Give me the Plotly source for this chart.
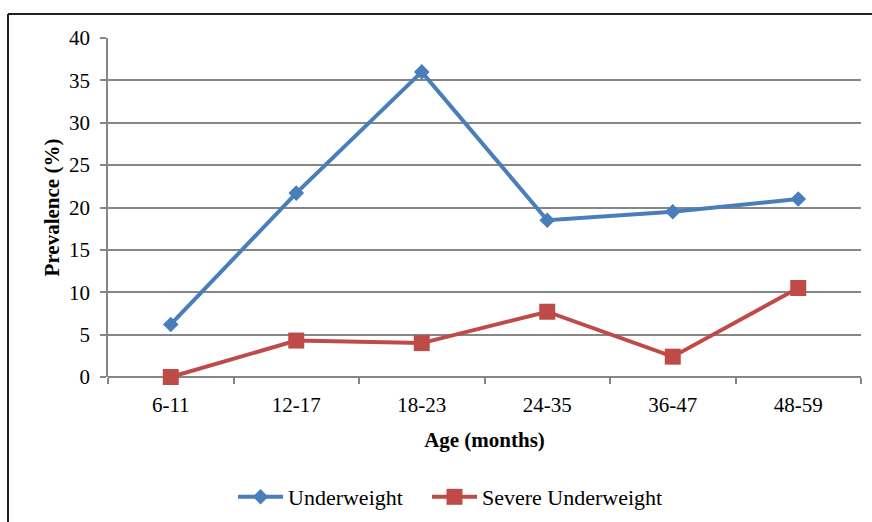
import plotly.graph_objects as go

categories = ["6-11", "12-17", "18-23", "24-35", "36-47", "48-59"]
underweight = [6.2, 21.7, 36.0, 18.5, 19.5, 21.0]
severe_underweight = [0.0, 4.3, 4.0, 7.7, 2.4, 10.5]
y_ticks = [0, 5, 10, 15, 20, 25, 30, 35, 40]

W, H = 872, 522
L, R, T, B = 108, 11, 38, 145
pw, ph = W - L - R, H - T - B

def px_x(p):
    return (p - L) / pw

def px_y(p):
    return (H - B - p) / ph

font = "Liberation Serif, Times New Roman, serif"

fig = go.Figure()
fig.add_trace(go.Scatter(
    x=categories, y=underweight, name="Underweight", mode="lines+markers",
    line=dict(color="#4A7EBB", width=4), cliponaxis=False, legend="legend",
    marker=dict(symbol="diamond", size=12, color="#4A7EBB"),
))
fig.add_trace(go.Scatter(
    x=categories, y=severe_underweight, name="Severe Underweight", mode="lines+markers",
    line=dict(color="#BE4B48", width=4), cliponaxis=False, legend="legend2",
    marker=dict(symbol="square", size=16, color="#BE4B48"),
))

legend_common = dict(orientation="h", xanchor="left", y=px_y(497), yanchor="middle",
                     font=dict(size=22), itemwidth=45, tracegroupgap=0,
                     bgcolor="rgba(0,0,0,0)")

fig.update_layout(
    width=W, height=H,
    margin=dict(l=L, r=R, t=T, b=B, autoexpand=False),
    paper_bgcolor="white", plot_bgcolor="white",
    font=dict(family=font, size=21, color="black"),
    showlegend=True,
    legend=dict(x=px_x(233), **legend_common),
    legend2=dict(x=px_x(427), **legend_common),
    xaxis=dict(
        type="category", showgrid=False, showline=False, zeroline=False, automargin=False,
        ticks="outside", tickson="boundaries", ticklen=6, tickcolor="#868686", tickwidth=1.5,
        tickfont=dict(size=21), ticklabelstandoff=13,
        title=dict(text="<b>Age (months)</b>", font=dict(size=21), standoff=16),
        range=[-0.5, 5.5],
    ),
    yaxis=dict(
        range=[0, 40], tickvals=y_ticks, showgrid=True, gridcolor="#868686", gridwidth=1.5,
        showline=True, linecolor="#868686", linewidth=1.5, zeroline=True, zerolinecolor="#868686",
        zerolinewidth=1.5, automargin=False,
        ticks="outside", ticklen=6, tickcolor="#868686", tickwidth=1.5,
        tickfont=dict(size=21), ticklabelstandoff=6,
        title=dict(text="<b>Prevalence (%)</b>", font=dict(size=21), standoff=4),
    ),
    shapes=[
        dict(type="line", xref="paper", yref="paper", x0=px_x(8), x1=px_x(872), y0=px_y(14), y1=px_y(14),
             line=dict(color="#222222", width=2)),
        dict(type="line", xref="paper", yref="paper", x0=px_x(8), x1=px_x(8), y0=px_y(14), y1=px_y(522),
             line=dict(color="#222222", width=2)),
    ],
)

fig.write_html(
    "out.html",
    config={"displayModeBar": False},
    post_script="document.body.style.margin='0px';document.body.style.overflow='hidden';",
)
